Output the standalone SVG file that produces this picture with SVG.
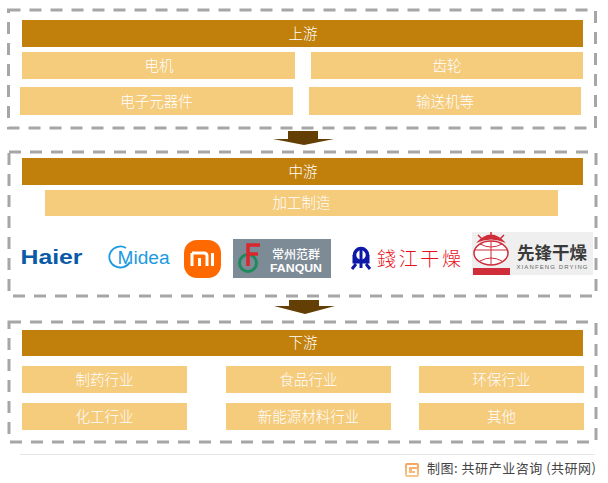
<svg xmlns="http://www.w3.org/2000/svg" width="608" height="483" viewBox="0 0 608 483">
<defs><style>
text{font-family:"Noto Sans CJK SC","Liberation Sans",sans-serif;text-anchor:middle}
.frame{fill:none;stroke:#a6a6a6;stroke-width:3;stroke-dasharray:12 9}
.dark{fill:#c1800b}.light{fill:#f5cb7c}
.lab{fill:#fff;font-size:14.500px;font-weight:300}
.arrow{fill:#633f05}
</style>
<linearGradient id="fg" x1="0" y1="0" x2="0" y2="1"><stop offset="0" stop-color="#f7a35c"/><stop offset="1" stop-color="#f9c98f"/></linearGradient>
</defs>
<rect width="608" height="483" fill="#fff"/>
<g id="frames">
<rect class="frame" x="8.5" y="10" width="587" height="118"/>
<rect class="frame" x="9" y="152" width="587" height="144"/>
<rect class="frame" x="9" y="322" width="587" height="120"/>
</g>
<g id="connectors">
<path class="arrow" d="M288 131H318V139H334L304 145L273 139H288Z"/>
<path class="arrow" d="M289 300H319V306H335L305 314L274 306H289Z"/>
</g>
<g id="n-up"><rect class="dark" x="22" y="20" width="561" height="27"/><text class="lab" x="303" y="39">上游</text></g>
<g id="n-motor"><rect class="light" x="22" y="52" width="273" height="27"/><text class="lab" x="159" y="71">电机</text></g>
<g id="n-gear"><rect class="light" x="311" y="52" width="272" height="27"/><text class="lab" x="447" y="71">齿轮</text></g>
<g id="n-elec"><rect class="light" x="20" y="87" width="273" height="28"/><text class="lab" x="156.500" y="107">电子元器件</text></g>
<g id="n-trans"><rect class="light" x="309" y="87" width="272" height="28"/><text class="lab" x="445" y="107">输送机等</text></g>
<g id="n-mid"><rect class="dark" x="22" y="158" width="561" height="27"/><text class="lab" x="303" y="177">中游</text></g>
<g id="n-make"><rect class="light" x="45" y="190" width="513" height="26"/><text class="lab" x="301.500" y="208">加工制造</text></g>
<g id="logo-haier"><text x="51.500" y="264" style="font-family:'Liberation Sans',sans-serif;font-weight:700;font-size:21px;fill:#0b5aa8" textLength="62" lengthAdjust="spacingAndGlyphs">Haier</text></g>
<g id="logo-midea"><path d="M126 248A11 10.500 0 1 0 130 262" fill="none" stroke="#1c9ae0" stroke-width="1.800"/><text x="143.500" y="264" style="font-family:'Liberation Sans',sans-serif;font-size:18px;fill:#1c9ae0" textLength="52" lengthAdjust="spacingAndGlyphs">Midea</text></g>
<g id="logo-mi"><rect x="184" y="240" width="37" height="38" rx="13" fill="#ff6900"/><path d="M192 253H204Q207 253 207 256V266M192 253V266M199.500 258V266M212.500 253V266" fill="none" stroke="#fff" stroke-width="3"/></g>
<g id="logo-fanqun"><rect x="233" y="239" width="98" height="39" fill="#7d8b97"/><circle cx="248" cy="263" r="8.500" fill="none" stroke="#1f8a5c" stroke-width="3"/><path d="M248 266V245H260M248 254H258" fill="none" stroke="#d9272e" stroke-width="3.500"/><text x="296" y="259" fill="#fff" font-size="12" font-weight="500">常州范群</text><text x="296" y="271.500" style="font-family:'Liberation Sans',sans-serif;font-weight:700;font-size:10.500px;fill:#fff" textLength="52" lengthAdjust="spacingAndGlyphs">FANQUN</text></g>
<g id="logo-qianjiang"><circle cx="361" cy="255" r="6.500" fill="#fff" stroke="#0d18a8" stroke-width="3.500"/><path d="M361 247V268M354 255V262H368V255M352 269L356 264M370 269L366 264" stroke="#0d18a8" stroke-width="3" fill="none"/><text x="419" y="265.500" fill="#e8101a" font-size="19" font-weight="300" style="font-family:'Noto Sans CJK SC',sans-serif" textLength="84">錢江干燥</text></g>
<g id="logo-xianfeng"><rect x="472" y="232" width="121" height="43" fill="#efefef"/><ellipse cx="491" cy="253" rx="17" ry="12" fill="#fff" stroke="#cf2d3a" stroke-width="1.500"/><path d="M474 250H508M491 241V265M480 244Q491 250 502 244M480 261Q491 255 502 261" stroke="#cf2d3a" fill="none"/><path d="M476 243Q491 226 506 243Q491 236 476 243Z" fill="#cf2d3a"/><path d="M491 237L491 232M482 239L478 235M500 239L504 235" stroke="#cf2d3a" stroke-width="1.500"/><rect x="473" y="268" width="37" height="7" fill="#cf2d3a"/><text x="552" y="259" fill="#3a3a3a" font-size="17.500" font-weight="700">先锋干燥</text><text x="552" y="269" style="font-family:'Liberation Sans',sans-serif;font-size:6px;fill:#666" textLength="71">XIANFENG DRYING</text></g>
<g id="n-down"><rect class="dark" x="22" y="330" width="561" height="26"/><text class="lab" x="303" y="348">下游</text></g>
<g id="n-pharma"><rect class="light" x="22" y="366" width="165" height="27"/><text class="lab" x="104.500" y="385">制药行业</text></g>
<g id="n-food"><rect class="light" x="226" y="366" width="165" height="27"/><text class="lab" x="308.500" y="385">食品行业</text></g>
<g id="n-env"><rect class="light" x="419" y="366" width="165" height="27"/><text class="lab" x="501.500" y="385">环保行业</text></g>
<g id="n-chem"><rect class="light" x="22" y="403" width="165" height="27"/><text class="lab" x="104.500" y="422">化工行业</text></g>
<g id="n-energy"><rect class="light" x="226" y="403" width="165" height="27"/><text class="lab" x="308.500" y="422">新能源材料行业</text></g>
<g id="n-other"><rect class="light" x="419" y="403" width="165" height="27"/><text class="lab" x="501.500" y="422">其他</text></g>
<g id="footer"><path d="M20 454.500H595" stroke="#e6e6e6" fill="none"/><rect x="405" y="463" width="14" height="14" rx="2" fill="url(#fg)"/><path d="M417 466H408V474H416V470H412" fill="none" stroke="#fff" stroke-width="2"/><text x="511.500" y="473" fill="#444" font-size="13" textLength="169">制图: 共研产业咨询 (共研网)</text></g>
</svg>
